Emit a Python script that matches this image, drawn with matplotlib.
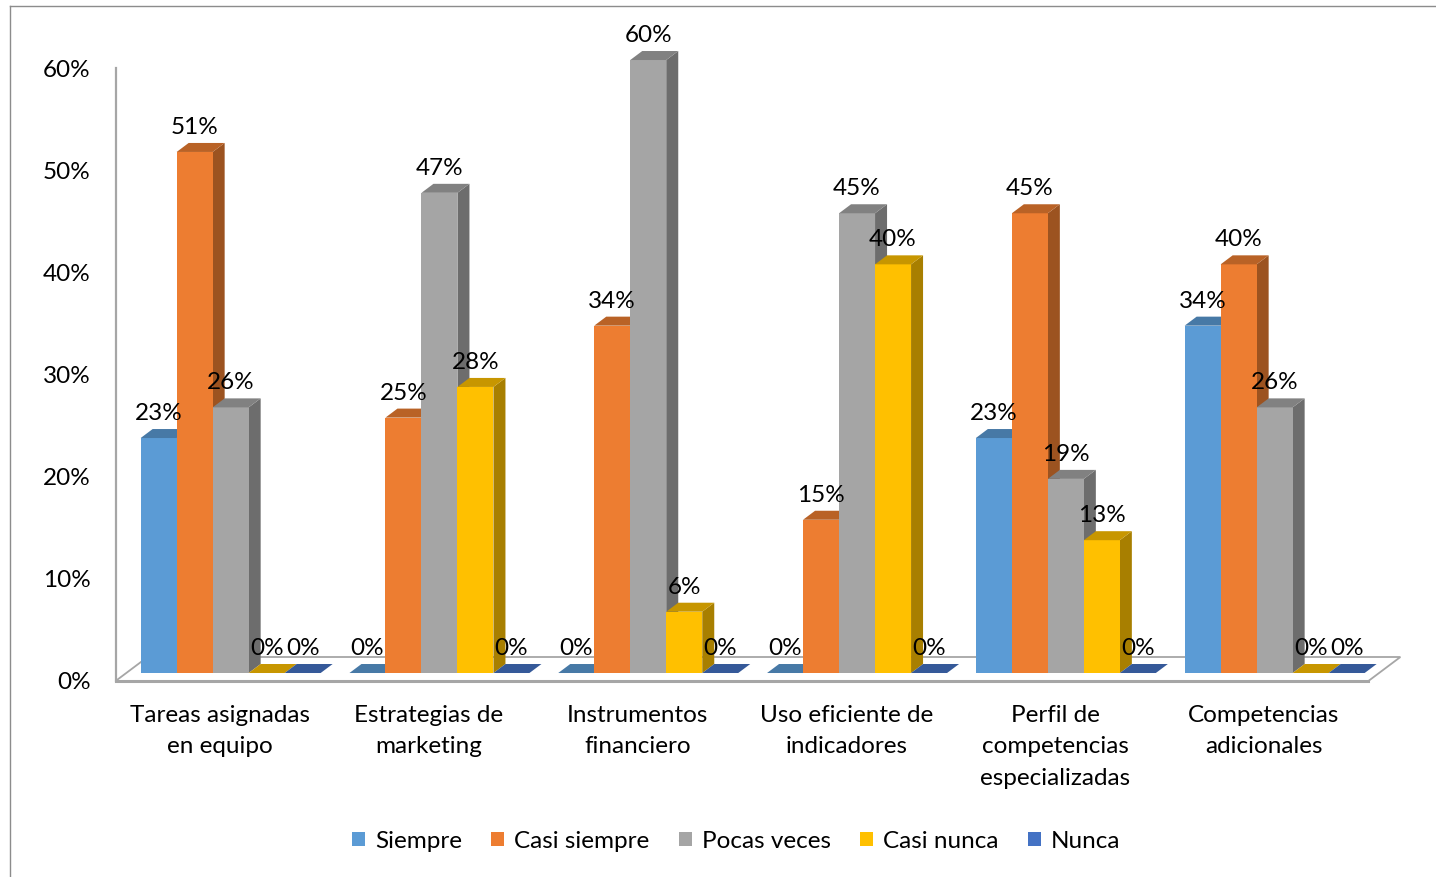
import numpy as np
import matplotlib
matplotlib.use("Agg")
import matplotlib.pyplot as plt
from matplotlib.patches import Polygon, Patch
from matplotlib.lines import Line2D
from matplotlib.colors import to_rgb

plt.rcParams['font.family'] = ['Lato', 'DejaVu Sans']

# data (percent)
categories = ["Tareas asignadas\nen equipo", "Estrategias de\nmarketing", "Instrumentos\nfinanciero",
              "Uso eficiente de\nindicadores", "Perfil de\ncompetencias\nespecializadas",
              "Competencias\nadicionales"]
series = ["Siempre", "Casi siempre", "Pocas veces", "Casi nunca", "Nunca"]
siempre = [23, 0, 0, 0, 23, 34]
casi_siempre = [51, 25, 34, 15, 45, 40]
pocas_veces = [26, 47, 60, 45, 19, 26]
casi_nunca = [0, 28, 6, 40, 13, 0]
nunca = [0, 0, 0, 0, 0, 0]
values = [siempre, casi_siempre, pocas_veces, casi_nunca, nunca]
colors = ["#5B9BD5", "#ED7D31", "#A5A5A5", "#FFC000", "#4472C4"]
yticks = [0, 10, 20, 30, 40, 50, 60]

FS = 17.5

def shade(c, f):
    return tuple(np.array(to_rgb(c)) * f)

fig = plt.figure(figsize=(14.36, 8.77), dpi=100)
ax = fig.add_axes([0.0805, 0.22349, 0.9015, 0.69897])
ax.set_xlim(-0.5, 5.7)
ax.set_ylim(0, 60)

# oblique depth (floor depth) in data units
DX = 32 / 208.8
DY = 24 / 10.217
d_front, d_back = 0.333, 0.708
w = 36 / 208.8
n = len(categories)

# floor
floor = Polygon([(-0.5, 0), (n - 0.5, 0), (n - 0.5 + DX, DY), (-0.5 + DX, DY)],
                closed=True, facecolor="white", edgecolor="#a6a6a6", lw=1.3, zorder=1, clip_on=False)
ax.add_patch(floor)
ax.add_line(Line2D([-0.5, n - 0.5], [0, 0], color="#a6a6a6", lw=2.2, zorder=1.5, clip_on=False))

z = 2
for i in range(n):
    for j, (vals, col) in enumerate(zip(values, colors)):
        v = vals[i]
        x0 = i - 2.5 * w + j * w
        x1 = x0 + w
        fx, fy = d_front * DX, d_front * DY
        bx, by = d_back * DX, d_back * DY
        front = [(x0 + fx, fy), (x1 + fx, fy), (x1 + fx, v + fy), (x0 + fx, v + fy)]
        top = [(x0 + fx, v + fy), (x1 + fx, v + fy), (x1 + bx, v + by), (x0 + bx, v + by)]
        side = [(x1 + fx, fy), (x1 + bx, by), (x1 + bx, v + by), (x1 + fx, v + fy)]
        if v > 0:
            ax.add_patch(Polygon(side, closed=True, facecolor=shade(col, 0.66), edgecolor="none", zorder=z, clip_on=False))
            ax.add_patch(Polygon(front, closed=True, facecolor=col, edgecolor="none", zorder=z + 0.1, clip_on=False))
        ax.add_patch(Polygon(top, closed=True, facecolor=shade(col, 0.78), edgecolor="none", zorder=z + 0.2, clip_on=False))
        z += 1
        ax.text(x0 + fx + w / 2, v + fy + 1.76, f"{v}%", ha="center", va="baseline",
                fontsize=FS, color="black", zorder=200)

ax.set_yticks(yticks)
ax.set_yticklabels([f"{t}%" for t in yticks])
ax.set_xticks(range(n))
ax.set_xticklabels(categories)
for lab in ax.get_xticklabels():
    lab.set_linespacing(1.63)
ax.tick_params(axis="y", length=0, pad=18, labelsize=FS, labelcolor="black")
ax.tick_params(axis="x", length=0, pad=17, labelsize=FS, labelcolor="black")
for s in ["top", "right", "bottom"]:
    ax.spines[s].set_visible(False)
ax.spines["left"].set_color("#a6a6a6")
ax.spines["left"].set_linewidth(1.6)
ax.patch.set_alpha(0)

handles = [Patch(facecolor=c, edgecolor="none") for c in colors]
fig.legend(handles, series, loc="center", bbox_to_anchor=(736 / 1436, 1 - 841 / 877), ncol=5,
           frameon=False, fontsize=FS, handlelength=0.55, handleheight=0.55, handletextpad=0.4,
           columnspacing=1.2)

# chart border
fig.add_artist(Line2D([10 / 1436, 1], [1 - 6 / 877, 1 - 6 / 877], color="#8c8c8c", lw=1, transform=fig.transFigure))
fig.add_artist(Line2D([10 / 1436, 10 / 1436], [0, 1 - 6 / 877], color="#8c8c8c", lw=1, transform=fig.transFigure))

fig.savefig("out.png", dpi=100)
